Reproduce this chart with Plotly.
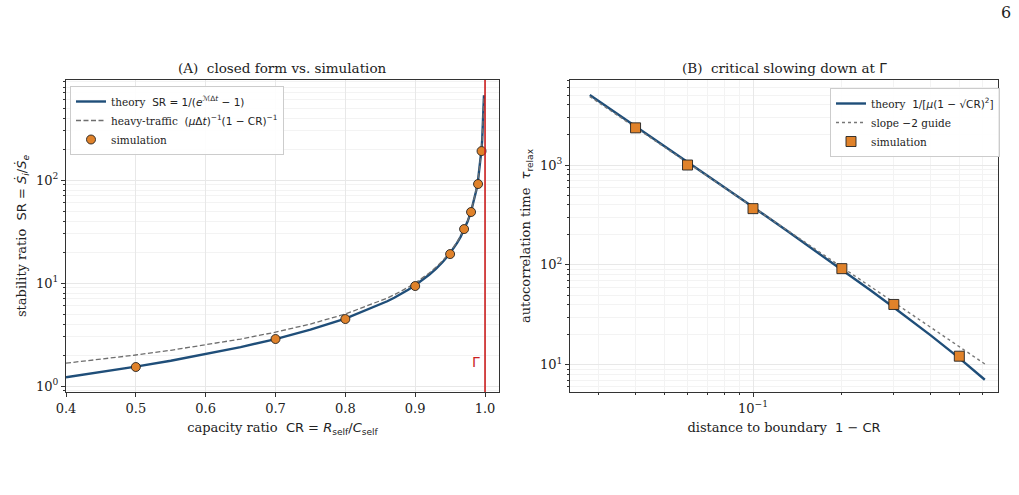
import math
import plotly.graph_objects as go

# ---------------- data: panel A ----------------
cr_theory = [0.4, 0.45, 0.5, 0.55, 0.6, 0.65, 0.7, 0.75, 0.8, 0.85, 0.86, 0.87, 0.88, 0.89,
             0.9, 0.91, 0.92, 0.93, 0.94, 0.95, 0.955, 0.96, 0.965, 0.97, 0.975, 0.98, 0.985,
             0.9875, 0.99, 0.993, 0.995, 0.996, 0.997, 0.998, 0.9985]
sr_theory = [1.216, 1.364, 1.542, 1.760, 2.033, 2.387, 2.858, 3.521, 4.517, 6.181, 6.655,
             7.203, 7.844, 8.600, 9.508, 10.62, 12.01, 13.79, 16.17, 19.50, 21.73, 24.50,
             28.07, 32.84, 39.50, 49.50, 66.17, 79.50, 99.50, 142.4, 199.5, 249.5, 332.8,
             499.5, 666.2]
sr_heavy = [1.667, 1.818, 2.0, 2.222, 2.5, 2.857, 3.333, 4.0, 5.0, 6.667, 7.143, 7.692,
            8.333, 9.091, 10.0, 11.11, 12.5, 14.29, 16.67, 20.0, 22.22, 25.0, 28.57, 33.33,
            40.0, 50.0, 66.67, 80.0, 100.0, 142.9, 200.0, 250.0, 333.3, 500.0, 666.7]
cr_sim = [0.5, 0.7, 0.8, 0.9, 0.95, 0.97, 0.98, 0.99, 0.995]
sr_sim = [1.53, 2.86, 4.47, 9.35, 19.1, 33.4, 48.9, 91.4, 191.0]

# ---------------- data: panel B ----------------
d_theory = [0.028, 0.035, 0.04, 0.05, 0.06, 0.08, 0.1, 0.13, 0.16, 0.2, 0.25, 0.3, 0.4, 0.5, 0.61]
tau_theory = [5031, 3208, 2450, 1560, 1077, 599.7, 379.7, 221.0, 143.5, 89.7, 55.7, 37.5,
              19.7, 11.66, 7.09]
d_guide = [0.028, 0.61]
tau_guide = [4843, 10.2]
d_sim = [0.04, 0.06, 0.1, 0.2, 0.3, 0.5]
tau_sim = [2356, 1000, 366, 91.8, 40.2, 12.2]

# ---------------- styles ----------------
SERIF = "DejaVu Serif"
SANS = "DejaVu Sans"
BLUE = "#1f4e79"
ORANGE = "#e0822a"
RED = "#cc1f1f"
GRID = "#e8e8e8"
MINGRID = "#f3f3f3"
AX = "#333333"


def s(t):
    return f"<span style='font-family:{SANS}'>{t}</span>"


fig = go.Figure()

# panel A traces
fig.add_trace(go.Scatter(
    x=cr_theory, y=sr_theory, mode="lines", line=dict(color=BLUE, width=2.4),
    name="theory  " + s("SR = 1/(<i>e</i><sup>ℳΔ<i>t</i></sup> − 1)"),
    xaxis="x", yaxis="y", legend="legend"))
fig.add_trace(go.Scatter(
    x=cr_theory, y=sr_heavy, mode="lines",
    line=dict(color="#6e6e6e", width=1.3, dash="5px,2.5px"),
    name="heavy-traffic  " + s("(<i>μ</i>Δ<i>t</i>)<sup>−1</sup>(1 − CR)<sup>−1</sup>"),
    xaxis="x", yaxis="y", legend="legend"))
fig.add_trace(go.Scatter(
    x=cr_sim, y=sr_sim, mode="markers",
    marker=dict(color=ORANGE, size=9, symbol="circle", line=dict(color="#222222", width=0.9)),
    name="simulation", xaxis="x", yaxis="y", legend="legend"))

# panel B traces
fig.add_trace(go.Scatter(
    x=d_theory, y=tau_theory, mode="lines", line=dict(color=BLUE, width=2.4),
    name="theory  " + s("1/[<i>μ</i>(1 − √CR)<sup>2</sup>]"),
    xaxis="x2", yaxis="y2", legend="legend2"))
fig.add_trace(go.Scatter(
    x=d_guide, y=tau_guide, mode="lines", line=dict(color="#777777", width=1.4, dash="dot"),
    name="slope " + s("−2") + " guide", xaxis="x2", yaxis="y2", legend="legend2"))
fig.add_trace(go.Scatter(
    x=d_sim, y=tau_sim, mode="markers",
    marker=dict(color=ORANGE, size=10, symbol="square", line=dict(color="#222222", width=0.9)),
    name="simulation", xaxis="x2", yaxis="y2", legend="legend2"))

W, H = 1019, 495
axA_x = [66 / W, 499 / W]
axB_x = [570 / W, 998 / W]
ax_y = [1 - 392 / H, 1 - 80 / H]

# vertical boundary line in panel A
fig.add_shape(type="line", xref="x", yref="paper", x0=1.0, x1=1.0, y0=ax_y[0], y1=ax_y[1],
              line=dict(color=RED, width=1.6))

tickfont = dict(family=SERIF, size=13, color="#222222")
titlefont = dict(family=SERIF, size=13, color="#222222")

minorA_y = [m * 10 ** e for e in range(-1, 3) for m in range(2, 10)]
minorB_y = [m * 10 ** e for e in range(0, 4) for m in range(2, 10)]
minorB_x = [m * 10 ** e for e in range(-2, 0) for m in range(2, 10)]

common = dict(showline=True, linecolor=AX, linewidth=1.2, mirror=True, ticks="outside",
              ticklen=4, tickcolor=AX, tickwidth=1, tickfont=tickfont, zeroline=False,
              showgrid=True, gridcolor=GRID, gridwidth=1, automargin=False)

fig.update_layout(
    width=W, height=H, margin=dict(l=0, r=0, t=0, b=0),
    paper_bgcolor="white", plot_bgcolor="white", showlegend=True,
    font=dict(family=SERIF, size=12, color="#222222"),
    xaxis=dict(domain=axA_x, anchor="y", range=[0.4, 1.02],
               tickvals=[0.4, 0.5, 0.6, 0.7, 0.8, 0.9, 1.0],
               ticktext=["0.4", "0.5", "0.6", "0.7", "0.8", "0.9", "1.0"],
               title=dict(text="capacity ratio  " + s("CR = <i>R</i><sub>self</sub>/<i>C</i><sub>self</sub>"),
                          font=titlefont, standoff=8),
               **common),
    yaxis=dict(domain=ax_y, anchor="x", type="log", range=[-0.058, 2.971],
               tickvals=[1, 10, 100], ticktext=["10<sup>0</sup>", "10<sup>1</sup>", "10<sup>2</sup>"],
               minor=dict(tickmode="array", tickvals=minorA_y, ticklen=2, tickcolor=AX,
                          showgrid=True, gridcolor=MINGRID),
               title=dict(text="stability ratio  " + s("SR = <i>Ṡ</i><sub><i>i</i></sub>/<i>Ṡ</i><sub><i>e</i></sub>"),
                          font=titlefont, standoff=6),
               **common),
    xaxis2=dict(domain=axB_x, anchor="y2", type="log", range=[-1.62, -0.17],
                tickvals=[0.1], ticktext=["10<sup>−1</sup>"],
                minor=dict(tickmode="array", tickvals=minorB_x, ticklen=2, tickcolor=AX,
                           showgrid=True, gridcolor=MINGRID),
                title=dict(text="distance to boundary  " + s("1 − CR"), font=titlefont, standoff=8),
                **common),
    yaxis2=dict(domain=ax_y, anchor="x2", type="log", range=[0.728, 3.851],
                tickvals=[10, 100, 1000], ticktext=["10<sup>1</sup>", "10<sup>2</sup>", "10<sup>3</sup>"],
                minor=dict(tickmode="array", tickvals=minorB_y, ticklen=2, tickcolor=AX,
                           showgrid=True, gridcolor=MINGRID),
                title=dict(text="autocorrelation time  " + s("<i>τ</i><sub>relax</sub>"),
                           font=titlefont, standoff=6),
                **common),
    legend=dict(x=70 / W, y=1 - 86 / H, xanchor="left", yanchor="top",
                bgcolor="rgba(255,255,255,0.9)", bordercolor="#cccccc", borderwidth=1,
                font=dict(family=SERIF, size=10.5, color="#222222"),
                itemwidth=30, tracegroupgap=0),
    legend2=dict(x=1000 / W, y=1 - 88 / H, xanchor="right", yanchor="top",
                 bgcolor="rgba(255,255,255,0.9)", bordercolor="#cccccc", borderwidth=1,
                 font=dict(family=SERIF, size=10.5, color="#222222"),
                 itemwidth=30, tracegroupgap=0),
    annotations=[
        dict(text="(A)  closed form vs. simulation", x=(66 + 499) / 2 / W, y=1 - 68 / H,
             xref="paper", yref="paper", showarrow=False, xanchor="center", yanchor="middle",
             font=dict(family=SERIF, size=13.5)),
        dict(text="(B)  critical slowing down at " + s("Γ"), x=(570 + 998) / 2 / W, y=1 - 68 / H,
             xref="paper", yref="paper", showarrow=False, xanchor="center", yanchor="middle",
             font=dict(family=SERIF, size=13.5)),
        dict(text="6", x=1006 / W, y=1 - 12 / H, xref="paper", yref="paper", showarrow=False,
             xanchor="center", yanchor="middle", font=dict(family=SERIF, size=16, color="#222222")),
        dict(text="Γ", x=0.987, y=math.log10(1.7), xref="x", yref="y", showarrow=False,
             font=dict(family=SANS, size=14, color=RED)),
    ],
)

fig.write_html("out.html")
